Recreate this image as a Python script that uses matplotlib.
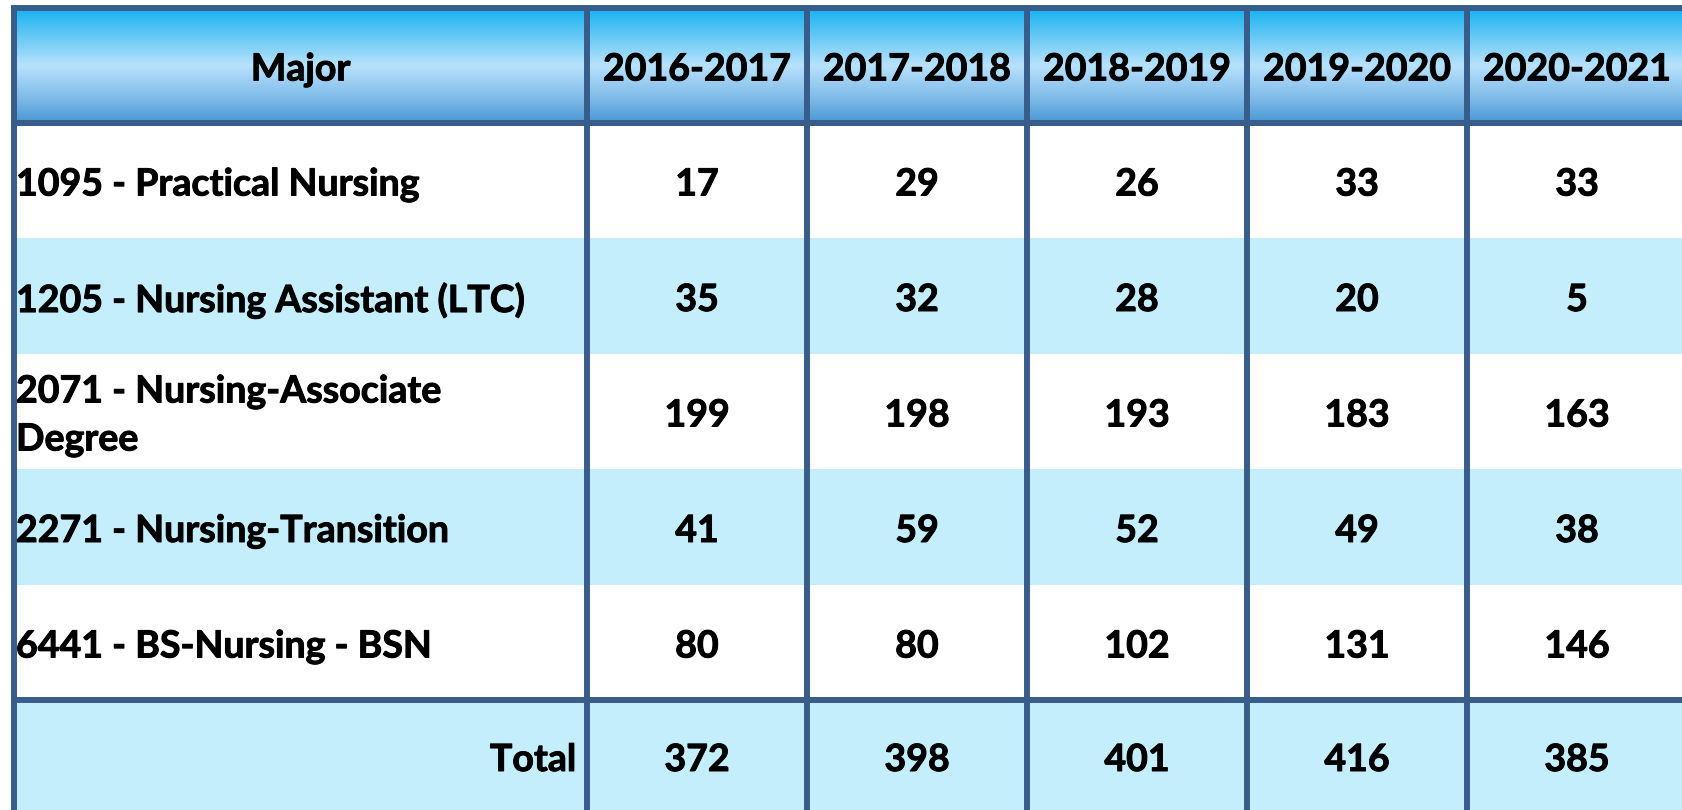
import numpy as np
import matplotlib.pyplot as plt
import matplotlib.patheffects as pe
from matplotlib.colors import LinearSegmentedColormap
from matplotlib.patches import Rectangle

# table content
majors = ["1095 - Practical Nursing",
          "1205 - Nursing Assistant (LTC)",
          "2071 - Nursing-Associate\nDegree",
          "2271 - Nursing-Transition",
          "6441 - BS-Nursing - BSN"]
years = ["2016-2017", "2017-2018", "2018-2019", "2019-2020", "2020-2021"]
practical = [17, 29, 26, 33, 33]
assistant = [35, 32, 28, 20, 5]
associate = [199, 198, 193, 183, 163]
transition = [41, 59, 52, 49, 38]
bsn = [80, 80, 102, 131, 146]
totals = [372, 398, 401, 416, 385]

rows = [practical, assistant, associate, transition, bsn]

# layout in pixels (table runs past the right and bottom edge)
W, H = 1682, 810
col_edges = [14, 587, 807, 1027, 1247, 1467, 1687]
row_edges = [8, 123, 238, 354, 469, 585, 700, 815]

border = "#385d8a"
light = "#c5eefd"
font = "Lato"
fs = 27
dy = 4  # nudge text down a little

fig = plt.figure(figsize=(W / 100, H / 100), dpi=100)
ax = fig.add_axes([0, 0, 1, 1])

# header gradient
cmap = LinearSegmentedColormap.from_list(
    "hdr", [(0, "#16b1f0"), (0.5, "#b8e2fc"), (0.8, "#7cb8e7"), (1, "#4896d4")])
grad = np.linspace(0, 1, 256).reshape(-1, 1)
ax.imshow(grad, extent=(col_edges[0], col_edges[-1], row_edges[1], row_edges[0]),
          aspect="auto", cmap=cmap, origin="upper", zorder=1)
ax.set_xlim(0, W)
ax.set_ylim(H, 0)
ax.axis("off")

# body fills
for i in range(len(rows) + 1):
    color = "white" if i % 2 == 0 and i < len(rows) else light
    y0, y1 = row_edges[i + 1], row_edges[i + 2]
    ax.add_patch(Rectangle((col_edges[0], y0), col_edges[-1] - col_edges[0], y1 - y0,
                           facecolor=color, edgecolor="none", zorder=1))

# borders
lw = 4.3
for x in col_edges[:-1]:
    ax.plot([x, x], [row_edges[0], row_edges[-1]], color=border, lw=lw,
            solid_capstyle="butt", zorder=3)
for y in [row_edges[0], row_edges[1], row_edges[-2]]:
    ax.plot([col_edges[0] - 3, col_edges[-1]], [y, y], color=border, lw=lw,
            solid_capstyle="butt", zorder=3)

centers_x = [(a + b) / 2 for a, b in zip(col_edges[:-1], col_edges[1:])]
centers_y = [(a + b) / 2 + dy for a, b in zip(row_edges[:-1], row_edges[1:])]

# slight stroke to get closer to the heavy look of the original font
heavy = [pe.withStroke(linewidth=0.7, foreground="black")]
txt = dict(fontfamily=font, fontweight="bold", fontsize=fs, color="black", zorder=4,
           path_effects=heavy)

# header
ax.text(centers_x[0], centers_y[0], "Major", ha="center", va="center", **txt)
for j, yr in enumerate(years):
    ax.text(centers_x[j + 1], centers_y[0], yr, ha="center", va="center", **txt)

# body
for i, (name, vals) in enumerate(zip(majors, rows)):
    cy = centers_y[i + 1]
    ax.text(col_edges[0] + 2, cy, name, ha="left", va="center", linespacing=1.5, **txt)
    for j, v in enumerate(vals):
        ax.text(centers_x[j + 1], cy, str(v), ha="center", va="center", **txt)

# total row
cy = row_edges[-2] + 60
ax.text(col_edges[1] - 11, cy, "Total", ha="right", va="center", **txt)
for j, v in enumerate(totals):
    ax.text(centers_x[j + 1], cy, str(v), ha="center", va="center", **txt)

fig.savefig("out.png", dpi=100)
